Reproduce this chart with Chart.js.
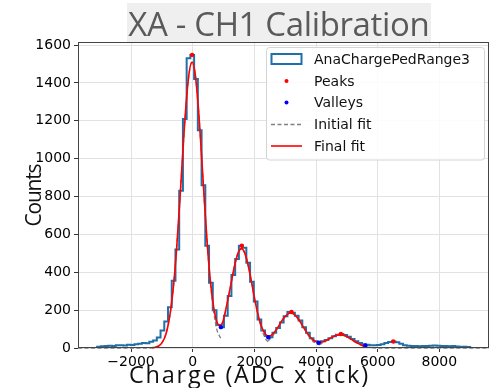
<!DOCTYPE html>
<html>
<head>
<meta charset="utf-8">
<script src="https://cdn.jsdelivr.net/npm/chart.js@4.4.0/dist/chart.umd.min.js"></script>
<style>
  html, body { margin: 0; padding: 0; background: #fff; }
</style>
</head>
<body>
<canvas id="chart" width="493" height="388"></canvas>
<script>
// histogram: bin edges and counts (AnaChargePedRange3)
const histEdges = [-3100, -2979, -2858, -2737, -2616, -2495, -2374, -2253, -2132, -2011,
  -1890, -1769, -1648, -1527, -1406, -1285, -1164, -1043, -922, -801,
  -680, -559, -438, -317, -196, -75, 46, 167, 288, 409,
  530, 651, 772, 893, 1014, 1135, 1256, 1377, 1498, 1619,
  1740, 1861, 1982, 2103, 2224, 2345, 2466, 2587, 2708, 2829,
  2950, 3071, 3192, 3313, 3434, 3555, 3676, 3797, 3918, 4039,
  4160, 4281, 4402, 4523, 4644, 4765, 4886, 5007, 5128, 5249,
  5370, 5491, 5612, 5733, 5854, 5975, 6096, 6217, 6338, 6459,
  6580, 6701, 6822, 6943, 7064, 7185, 7306, 7427, 7548, 7669,
  7790, 7911, 8032, 8153, 8274, 8395, 8516, 8637, 8758, 8879, 9000];
const histCounts = [6, 9, 10, 12, 11, 14, 15, 13, 17, 16,
  20, 23, 27, 25, 33, 40, 55, 92, 140, 215,
  355, 520, 830, 1210, 1530, 1548, 1420, 1150, 860, 540,
  345, 200, 122, 110, 170, 275, 385, 470, 540, 530,
  450, 350, 245, 150, 92, 64, 57, 80, 105, 135,
  168, 190, 186, 170, 145, 110, 80, 52, 36, 28,
  35, 42, 52, 62, 70, 74, 68, 60, 47, 36,
  27, 20, 17, 15, 14, 16, 20, 26, 32, 34,
  30, 22, 15, 12, 10, 11, 9, 10, 11, 12,
  13, 12, 11, 10, 9, 10, 8, 7, 6, 5];

// final fit curve
const fitX = [-1320, -1220, -1120, -1020, -920, -820, -720, -620, -520, -420,
  -320, -220, -120, -20, 80, 180, 280, 380, 480, 580,
  680, 780, 880, 980, 1080, 1180, 1280, 1380, 1480, 1580,
  1680, 1780, 1880, 1980, 2080, 2180, 2280, 2380, 2480, 2580,
  2680, 2780, 2880, 2980, 3080, 3180, 3280, 3380, 3480, 3580,
  3680, 3780, 3880, 3980, 4080, 4180, 4280, 4380, 4480, 4580,
  4680, 4780, 4880, 4980, 5080, 5180, 5280, 5380, 5480, 5580];
const finalFit = [1, 4, 9, 23, 50, 103, 193, 333, 528, 771,
  1035, 1277, 1448, 1510, 1448, 1277, 1036, 773, 533, 344,
  216, 140, 118, 140, 209, 287, 372, 450, 505, 525,
  505, 450, 372, 285, 204, 139, 94, 69, 63, 71,
  90, 114, 141, 163, 179, 185, 179, 163, 140, 113,
  87, 63, 46, 35, 30, 31, 36, 44, 54, 62,
  68, 70, 68, 62, 53, 42, 32, 23, 15, 7];

// initial fit, one piece per peak (null = break)
const initX = [-3720, -1420, -1320, -1220, -1120, -1020, -920, -820, -720, -620, -520, -420, -320, -220, -120, -20,
  80, 180, 280, 380, 480, 580, 680, 780, 880, 940, 940,
  940, 1080, 1180, 1280, 1380, 1480, 1580, 1680, 1780, 1880, 1980, 2080, 2180, 2280, 2380, 2450, 2450,
  2450, 2580, 2680, 2780, 2880, 2980, 3080, 3180, 3280, 3380, 3480, 3580, 3680, 3780, 3880, 3980, 4090, 4090,
  4090, 4180, 4280, 4380, 4480, 4580, 4680, 4780, 4880, 4980, 5080, 5180, 5280, 5380, 5480, 5580, 5680, 5800, 5950, 9610];
const initY = [0, 0, 1, 4, 9, 23, 50, 103, 193, 333, 528, 771, 1035, 1277, 1448, 1510,
  1448, 1277, 1035, 771, 528, 333, 193, 100, 60, 44, null,
  112, 200, 283, 371, 450, 505, 525, 505, 450, 371, 283, 200, 131, 79, 44, 32, null,
  38, 60, 85, 112, 140, 163, 179, 185, 179, 163, 140, 112, 85, 60, 40, 25, 16, null,
  17, 23, 32, 42, 53, 62, 68, 70, 68, 62, 53, 42, 32, 23, 15, 9, 5, 2, 0, 0];

const peakX = [-20, 1594, 3206, 4806, 6506];
const peakY = [1548, 540, 190, 74, 34];
const valleyX = [916, 2452, 4087, 5600];
const valleyY = [110, 57, 28, 14];

const xTicks = [-2000, 0, 2000, 4000, 6000, 8000];
const yTicks = [0, 200, 400, 600, 800, 1000, 1200, 1400, 1600];

const TITLE = 'XA - CH1 Calibration';
const XLABEL = 'Charge (ADC x tick)';
const YLABEL = 'Counts';
const legendNames = ['AnaChargePedRange3', 'Peaks', 'Valleys', 'Initial fit', 'Final fit'];

const HIST_COLOR = '#1f6fa8';

// step outline like matplotlib histtype='step'
const histPoints = [{ x: histEdges[0], y: 0 }];
histCounts.forEach((c, i) => histPoints.push({ x: histEdges[i], y: c }));
histPoints.push({ x: histEdges[histEdges.length - 1], y: 0 });

const pts = (xs, ys) => xs.map((x, i) => ({ x: x, y: ys[i] }));

// draw text at a given size, spread a little to a target width
function spreadText(ctx, text, x, y, size, family, targetW) {
  ctx.font = size + 'px ' + family;
  ctx.letterSpacing = '0px';
  const w = ctx.measureText(text).width;
  const extra = (targetW - w) / text.length;
  ctx.letterSpacing = extra + 'px';
  ctx.fillText(text, x + extra / 2, y);
  ctx.letterSpacing = '0px';
}

const decor = {
  id: 'decor',
  afterDraw(chart) {
    const { ctx, chartArea: a } = chart;
    ctx.save();

    // frame
    ctx.strokeStyle = '#444';
    ctx.lineWidth = 1;
    ctx.strokeRect(a.left + 0.5, a.top + 0.5, a.right - a.left - 1, a.bottom - a.top - 1);

    // title with grey box
    const fam = '"Open Sans", sans-serif';
    ctx.fillStyle = '#efefef';
    ctx.fillRect(127, 3, 304, 39);
    ctx.fillStyle = '#5a5a5a';
    ctx.textAlign = 'center';
    ctx.textBaseline = 'alphabetic';
    spreadText(ctx, TITLE, 279, 36, 33, fam, 301);

    // axis labels
    ctx.fillStyle = '#111';
    spreadText(ctx, XLABEL, 248.5, 383, 23.5, fam, 241);
    ctx.save();
    ctx.translate(41, 195);
    ctx.rotate(-Math.PI / 2);
    spreadText(ctx, YLABEL, 0, 0, 21, fam, 62);
    ctx.restore();

    // legend
    ctx.beginPath();
    ctx.roundRect(266.5, 47.5, 218, 112.5, 3);
    ctx.fillStyle = 'rgba(255,255,255,0.85)';
    ctx.fill();
    ctx.strokeStyle = '#d4d4d4';
    ctx.lineWidth = 1;
    ctx.stroke();

    const rowY = [59, 81, 102.5, 124.5, 146];
    ctx.font = '14px "DejaVu Sans"';
    ctx.textAlign = 'left';
    ctx.textBaseline = 'middle';
    legendNames.forEach((name, i) => {
      const y = rowY[i];
      ctx.save();
      if (i === 0) {
        ctx.strokeStyle = HIST_COLOR;
        ctx.lineWidth = 2;
        ctx.strokeRect(271.5, y - 5, 30, 10);
      } else if (i === 1 || i === 2) {
        ctx.fillStyle = i === 1 ? '#ff0000' : '#0000ff';
        ctx.beginPath();
        ctx.arc(286.5, y, 2, 0, Math.PI * 2);
        ctx.fill();
      } else {
        ctx.strokeStyle = i === 3 ? '#808080' : '#ff0000';
        ctx.lineWidth = i === 3 ? 1.3 : 1.6;
        if (i === 3) ctx.setLineDash([4, 2.5]);
        ctx.beginPath();
        ctx.moveTo(271, y);
        ctx.lineTo(302, y);
        ctx.stroke();
      }
      ctx.restore();
      ctx.fillStyle = '#111';
      ctx.fillText(name, 314, y + 1);
    });

    ctx.restore();
  }
};

const tickFont = { family: '"DejaVu Sans"', size: 14 };
const fmt = v => (v < 0 ? '\u2212' + Math.abs(v) : String(v));

new Chart(document.getElementById('chart'), {
  type: 'line',
  data: {
    datasets: [
      {
        label: 'Peaks',
        data: pts(peakX, peakY),
        showLine: false,
        pointRadius: 2.2,
        pointBackgroundColor: '#ff0000',
        pointBorderWidth: 0,
        clip: 5
      },
      {
        label: 'Valleys',
        data: pts(valleyX, valleyY),
        showLine: false,
        pointRadius: 2.2,
        pointBackgroundColor: '#0000ff',
        pointBorderWidth: 0,
        clip: 5
      },
      {
        label: 'Final fit',
        data: pts(fitX, finalFit),
        borderColor: '#ff0000',
        borderWidth: 1.6,
        pointRadius: 0,
        cubicInterpolationMode: 'monotone',
        clip: 5
      },
      {
        label: 'Initial fit',
        data: pts(initX, initY),
        borderColor: '#808080',
        borderWidth: 1.3,
        borderDash: [4, 2.5],
        pointRadius: 0,
        spanGaps: false,
        cubicInterpolationMode: 'monotone',
        clip: 5
      },
      {
        label: 'AnaChargePedRange3',
        data: histPoints,
        borderColor: HIST_COLOR,
        borderWidth: 2,
        stepped: 'before',
        pointRadius: 0,
        clip: 5
      }
    ]
  },
  options: {
    responsive: false,
    animation: false,
    layout: { padding: { top: 42, right: 2, bottom: 0, left: 0 } },
    plugins: {
      legend: { display: false },
      title: { display: false },
      tooltip: { enabled: false }
    },
    scales: {
      x: {
        type: 'linear',
        min: -3720,
        max: 9610,
        afterBuildTicks: s => { s.ticks = xTicks.map(v => ({ value: v })); },
        afterFit: s => { s.height = 40; },
        ticks: { font: tickFont, color: '#000', maxRotation: 0, padding: 2, callback: fmt },
        grid: { color: '#e2e2e2', tickColor: '#333', tickLength: 4 },
        border: { display: false }
      },
      y: {
        type: 'linear',
        min: 0,
        max: 1616,
        afterBuildTicks: s => { s.ticks = yTicks.map(v => ({ value: v })); },
        afterFit: s => { s.width = 78; },
        ticks: { font: tickFont, color: '#000', padding: 3, callback: fmt },
        grid: { color: '#e2e2e2', tickColor: '#333', tickLength: 4 },
        border: { display: false }
      }
    }
  },
  plugins: [decor]
});
</script>
</body>
</html>
